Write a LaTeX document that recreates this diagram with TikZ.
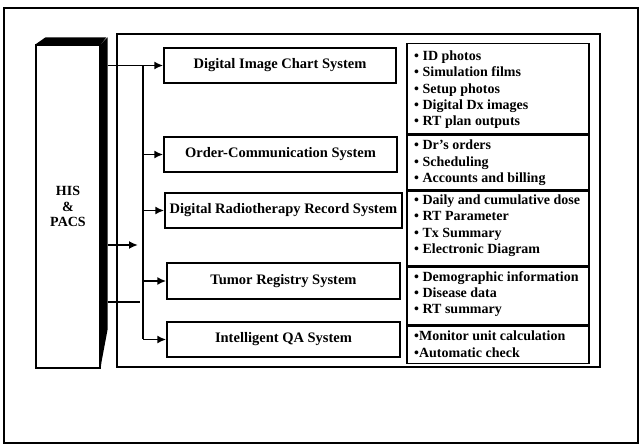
\documentclass[tikz,border=0pt]{standalone}
\usepackage{fontspec}
\setmainfont{Liberation Serif}
\usetikzlibrary{arrows.meta}
\tikzset{
  sysbox/.style={draw, line width=1.4pt, minimum height=35pt, inner sep=1pt,
    font=\bfseries\fontsize{14.5}{16}\selectfont},
  listframe/.style={draw, line width=1.5pt, anchor=north west, minimum width=182pt, inner sep=0pt},
  listtext/.style={anchor=west, inner sep=0pt, align=left,
    font=\bfseries\fontsize{14}{16.3}\selectfont},
  arr/.style={line width=1.9pt, -{Latex[length=9pt,width=8pt]}},
  bus/.style={line width=1.9pt}
}
\begin{document}
\begin{tikzpicture}[x=1pt,y=-1pt]
\useasboundingbox (0,0) rectangle (643,446);
% outer frame
\draw[line width=2pt] (4,8) rectangle (638,443);
% main frame
\draw[line width=2.2pt] (117,34) rectangle (600,367);
% HIS & PACS box
\node[draw, line width=1.2pt, minimum width=64pt, minimum height=323pt, inner sep=0pt,
  align=center, font=\bfseries\fontsize{14}{15.5}\selectfont] (his) at (68,206.5) {HIS\\\&\\PACS};
\fill (his.north west) -- ++(10,-7) -- ++(61,0) -- (his.north east) -- cycle;
\fill (his.north east) -- ++(7,-7) -- ++(0,292) -- ++(-6,32) -- (his.south east) -- cycle;
% system boxes
\node[sysbox, minimum width=232pt] (dic) at (280,65.5) {Digital Image Chart System};
\node[sysbox, minimum width=233pt] (ocs) at (280.5,154.5) {Order-Communication System};
\node[sysbox, minimum width=237pt] (drr) at (283.5,210.5) {Digital Radiotherapy Record System};
\node[sysbox, minimum width=233pt, minimum height=36pt] (trs) at (283.5,281) {Tumor Registry System};
\node[sysbox, minimum width=233pt] (iqa) at (283.5,339.5) {Intelligent QA System};
% list frames
\node[listframe, minimum height=90pt] (l1) at (406,43) {};
\node[listframe, minimum height=55pt] (l2) at (l1.south west) {};
\node[listframe, minimum height=74pt] (l3) at (l2.south west) {};
\node[listframe, minimum height=58pt] (l4) at (l3.south west) {};
\node[listframe, minimum height=37pt] (l5) at (l4.south west) {};
% list texts
\node[listtext] (t1) at ([xshift=8pt,yshift=-1pt]l1.west)
  {• ID photos\\• Simulation films\\• Setup photos\\• Digital Dx images\\• RT plan outputs};
\node[listtext] (t2) at ([xshift=8pt]l2.west)
  {• Dr's orders\\• Scheduling\\• Accounts and billing};
\node[listtext] (t3) at ([xshift=8pt,yshift=3pt]l3.west)
  {• Daily and cumulative dose\\• RT Parameter\\• Tx Summary\\• Electronic Diagram};
\node[listtext] (t4) at ([xshift=8pt,yshift=2pt]l4.west)
  {• Demographic information\\• Disease data\\• RT summary};
\node[listtext] (t5) at ([xshift=8pt,yshift=1pt]l5.west)
  {•Monitor unit calculation\\•Automatic check};
% connectors
\coordinate (hx) at ([xshift=7pt]his.east);
\coordinate (bx) at (143,0);
\draw[arr] (hx |- dic.west) -- (dic.west);
\draw[bus] (bx |- dic.west) -- (bx |- iqa.west);
\draw[arr] (bx |- ocs.west) -- (ocs.west);
\draw[arr] (bx |- drr.west) -- (drr.west);
\draw[arr] (bx |- trs.west) -- (trs.west);
\draw[arr] (bx |- iqa.west) -- (iqa.west);
\coordinate (e1) at (138,245);
\coordinate (e2) at (140,302);
\draw[arr] (hx |- e1) -- (e1);
\draw[bus] (hx |- e2) -- (e2);
\end{tikzpicture}
\end{document}
